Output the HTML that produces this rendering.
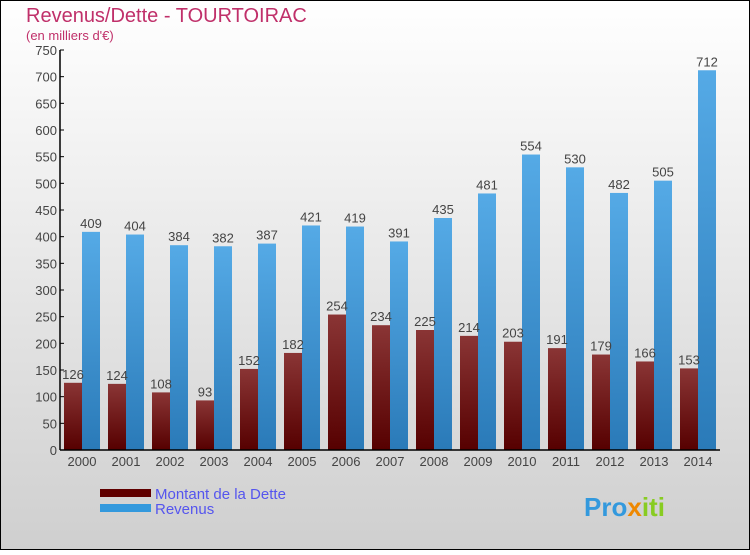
<!DOCTYPE html>
<html><head><meta charset="utf-8"><style>
body{margin:0;width:750px;height:550px;overflow:hidden;font-family:"Liberation Sans",sans-serif}
</style></head><body>
<svg width="750" height="550" xmlns="http://www.w3.org/2000/svg">
<defs>
<linearGradient id="bg" x1="0" y1="0" x2="0" y2="1"><stop offset="0" stop-color="#ffffff"/><stop offset="1" stop-color="#cfcfcf"/></linearGradient>
<linearGradient id="gd" x1="0" y1="0" x2="0" y2="1"><stop offset="0" stop-color="#8a3535"/><stop offset="1" stop-color="#560000"/></linearGradient>
<linearGradient id="gr" x1="0" y1="0" x2="0" y2="1"><stop offset="0" stop-color="#55aae6"/><stop offset="1" stop-color="#2a7ab8"/></linearGradient>
</defs>
<rect x="0.5" y="0.5" width="749" height="549" fill="url(#bg)" stroke="#000"/>
<text x="26" y="22" font-size="20" fill="#c0306a">Revenus/Dette - TOURTOIRAC</text>
<text x="26" y="40" font-size="13" fill="#c0306a">(en milliers d'€)</text>
<g id="plot"></g>
<rect x="100" y="489" width="51" height="8" fill="#600000"/>
<text x="155" y="499" font-size="15" fill="#5555ee">Montant de la Dette</text>
<rect x="100" y="504" width="51" height="8" fill="#3399dd"/>
<text x="155" y="514" font-size="15" fill="#5555ee">Revenus</text>
<text x="584" y="516" font-size="26" font-weight="bold" fill="#3399dd">Pro<tspan fill="#ee8800">x</tspan><tspan fill="#88cc22">iti</tspan></text>
</svg>
<script>
const years=["2000","2001","2002","2003","2004","2005","2006","2007","2008","2009","2010","2011","2012","2013","2014"];
const dette=[126,124,108,93,152,182,254,234,225,214,203,191,179,166,153];
const revenus=[409,404,384,382,387,421,419,391,435,481,554,530,482,505,712];
const ticks=[0,50,100,150,200,250,300,350,400,450,500,550,600,650,700,750];
const NS="http://www.w3.org/2000/svg";
const g=document.getElementById('plot');
const y0=450,yTop=50,x0=60,step=44,bw=18;
function y(v){return y0-(v/750)*(y0-yTop);}
function cx(i){return 82+i*step;}
function mk(t,a,txt){const e=document.createElementNS(NS,t);for(const k in a)e.setAttribute(k,a[k]);if(txt!==undefined)e.textContent=txt;g.appendChild(e);return e;}
ticks.forEach(t=>{
 const l=mk('line',{x1:x0,x2:x0+4,y1:y(t),y2:y(t),stroke:'#000'});
 
 
 const tx=mk('text',{x:x0-3,y:y(t)+5,'font-size':13,fill:'#444','text-anchor':'end'},t);
 
 
});
years.forEach((yr,i)=>{
 const c=cx(i);
 const b1=mk('rect',{x:c-bw,y:y(dette[i]),width:bw,height:y0-y(dette[i]),fill:'url(#gd)'});
 
 
 const b2=mk('rect',{x:c,y:y(revenus[i]),width:bw,height:y0-y(revenus[i]),fill:'url(#gr)'});
 
 
 const t1=mk('text',{x:c-bw/2,y:y(dette[i])-4,'font-size':13,fill:'#444','text-anchor':'middle'},dette[i]);
 
 
 const t2=mk('text',{x:c+bw/2,y:y(revenus[i])-4,'font-size':13,fill:'#444','text-anchor':'middle'},revenus[i]);
 
 
 const xl=mk('text',{x:c,y:466,'font-size':13,fill:'#444','text-anchor':'middle'},yr);
 
 
});
const ya=mk('line',{x1:x0,x2:x0,y1:yTop,y2:y0,stroke:'#000','stroke-width':1.5});


const xa=mk('line',{x1:x0,x2:720,y1:y0,y2:y0,stroke:'#000','stroke-width':1.5});


</script>
</body></html>
